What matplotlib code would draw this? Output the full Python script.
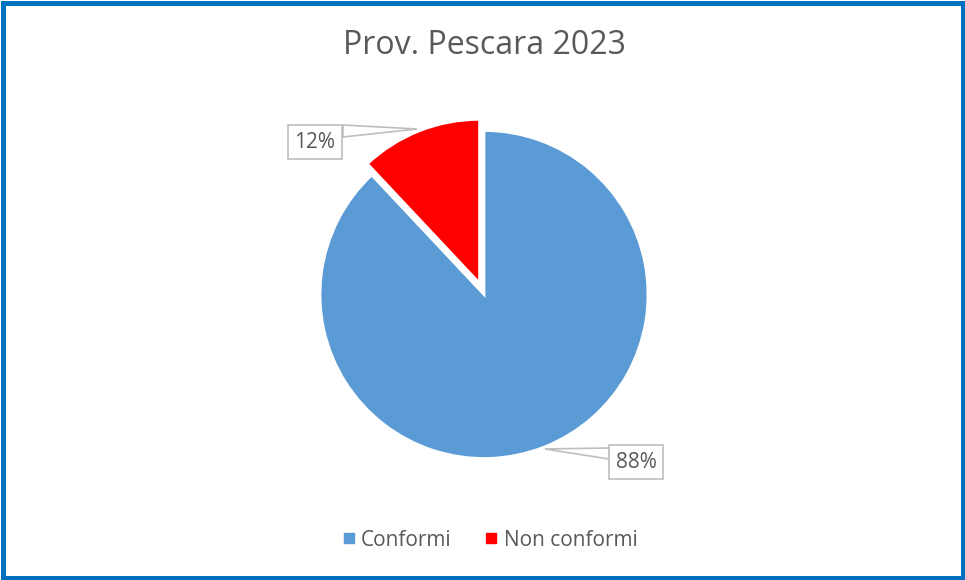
import matplotlib
matplotlib.use("Agg")
import matplotlib.pyplot as plt
from matplotlib.patches import Rectangle, Polygon
from matplotlib.lines import Line2D

# Data
categories = ["Conformi", "Non conformi"]
values = [88, 12]
colors = ["#5B9BD5", "#FF0000"]
title = "Prov. Pescara 2023"

W, H = 965, 580
fig = plt.figure(figsize=(W / 100, H / 100), dpi=100)
ax = fig.add_axes([0, 0, 1, 1])

FONT = "Open Sans"
GREY = "#595959"


def py(y):
    """Convert a top-down pixel row into a data y coordinate."""
    return H - y


# Pie: first slice starts at 12 o'clock and runs clockwise
cx, cy, r = 484, py(294.5), 164
wedges, _ = ax.pie(values, colors=colors, startangle=90, counterclock=False,
                   radius=r, center=(cx, cy), explode=[0, 12],
                   wedgeprops=dict(linewidth=2, edgecolor="white"),
                   frame=True)
ax.set_xlim(0, W)
ax.set_ylim(0, H)
ax.set_aspect("equal")
ax.axis("off")

total = sum(values)
pct = [f"{round(v / total * 100)}%" for v in values]

# Data labels with callout boxes
label_specs = [
    # (text centre, callout tip, callout base points)
    ((636, 462), (545, 449), [(609, 448), (609, 459)]),
    ((315, 142), (417, 129), [(343, 125), (343, 137)]),
]
for text, (tc, tip, base) in zip(pct, label_specs):
    tri = Polygon([(tip[0], py(tip[1])), (base[0][0], py(base[0][1])),
                   (base[1][0], py(base[1][1]))], closed=True,
                  facecolor="white", edgecolor="#BFBFBF", linewidth=1.2,
                  zorder=3)
    ax.add_patch(tri)
    ax.text(tc[0], py(tc[1]), text, ha="center", va="center",
            fontsize=15, color=GREY, family=FONT, zorder=4,
            bbox=dict(boxstyle="square,pad=0.3", facecolor="white",
                      edgecolor="#BFBFBF", linewidth=1.2))

# Title
ax.text(484, py(46), title, ha="center", va="center", fontsize=23,
        color=GREY, family=FONT)

# Legend
handles = [Line2D([0], [0], marker="s", linestyle="none", markersize=6.5,
                  markerfacecolor=c, markeredgecolor=c) for c in colors]
fig.legend(handles, categories, loc="center", ncol=2, frameon=False,
           bbox_to_anchor=(488 / W, 1 - 540 / H), handletextpad=0.1,
           handlelength=1.0, columnspacing=1.4,
           prop=dict(family=FONT, size=15), labelcolor=GREY)

# Outer border
fig.patches.append(Rectangle((2.5 / W, 2.5 / H), 1 - 5 / W, 1 - 5 / H,
                             transform=fig.transFigure, fill=False,
                             edgecolor="#0070C0", linewidth=3.6))

fig.savefig("out.png", dpi=100)
